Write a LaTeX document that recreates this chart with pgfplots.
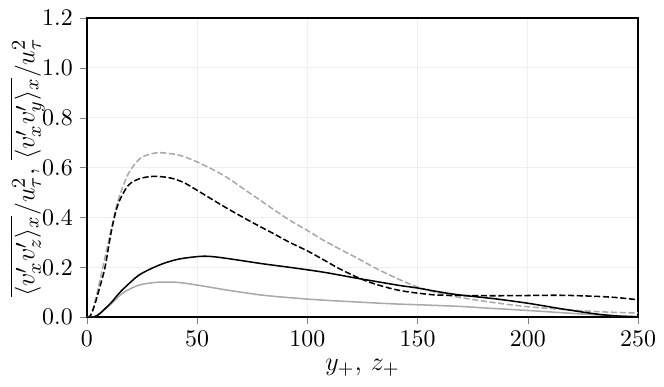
\documentclass[border=0pt]{standalone}
\usepackage{pgfplots}
\pgfplotsset{compat=1.18}

\definecolor{lgray}{HTML}{A9A9A9}
\definecolor{gridc}{HTML}{EFEFEF}

\begin{document}
\begin{tikzpicture}
\begin{axis}[
    name=ax,
    scale only axis,
    width=253pt, height=137.3pt,
    xmin=0, xmax=250, ymin=0, ymax=1.2,
    xtick={0,50,100,150,200,250},
    ytick={0,0.2,0.4,0.6,0.8,1.0,1.2},
    yticklabel style={/pgf/number format/.cd, fixed, fixed zerofill, precision=1},
    tick label style={font=\fontsize{10.95}{13}\selectfont},
    tick align=outside,
    xtick pos=bottom, ytick pos=left,
    major tick length=3pt,
    grid=major, grid style={gridc, line width=0.5pt},
    axis line style={line width=0.7pt},
    xlabel={$y_+$, $z_+$},
    ylabel={$\overline{\langle v'_x v'_z\rangle_x}/u_\tau^2$, $\overline{\langle v'_x v'_y\rangle_x}/u_\tau^2$},
    label style={font=\fontsize{12.5}{15}\selectfont},
    xlabel style={yshift=1pt},
    ylabel style={yshift=-8pt},
    every axis plot/.append style={line width=0.7pt, smooth},
]
% grey dashed
\addplot[lgray, dash pattern=on 2.8pt off 1.2pt] coordinates {
(0,0) (1.5,0.005) (3,0.04) (5.2,0.12) (8.2,0.24) (11.2,0.36) (14.2,0.47)
(18.8,0.576) (24,0.636) (29,0.655) (33,0.66) (38,0.656) (42.3,0.649)
(50,0.623) (62,0.569) (74,0.497) (84.7,0.432) (92,0.389) (100,0.348)
(107,0.310) (115,0.272) (122.4,0.238) (132,0.192) (142,0.150) (150,0.121)
(158,0.100) (165,0.086) (178.6,0.066) (200,0.042) (230,0.023) (250,0.017)};
% black dashed
\addplot[black, dash pattern=on 2.8pt off 1.2pt] coordinates {
(0,0) (1.5,0.005) (3,0.035) (5.2,0.1) (8.2,0.2) (11.2,0.35) (14.2,0.455)
(18.8,0.529) (24,0.556) (30,0.565) (35.5,0.562) (39,0.556) (44,0.54)
(50,0.509) (62,0.445) (74,0.385) (84.7,0.335) (92,0.300) (100,0.266)
(107,0.232) (114,0.197) (122.4,0.161) (130,0.135) (142,0.107) (157,0.09)
(170,0.087) (185,0.086) (200,0.087) (215,0.088) (230,0.084) (240,0.079) (250,0.070)};
% grey solid
\addplot[lgray] coordinates {
(0,0) (3,0.001) (5.2,0.01) (8.2,0.032) (11.2,0.055) (14,0.08) (17.3,0.103)
(23.3,0.128) (29.4,0.138) (35,0.141) (42,0.139) (51.3,0.127) (64.9,0.107)
(80,0.088) (96.6,0.075) (110,0.067) (137.7,0.054) (150,0.05) (170,0.043)
(178.6,0.038) (200,0.027) (230,0.01) (250,0.003)};
% black solid
\addplot[black] coordinates {
(0,0) (3,0.001) (5.2,0.01) (8.2,0.034) (11.2,0.06) (14,0.09) (17.3,0.12)
(23.3,0.167) (29.4,0.196) (35.5,0.218) (42.2,0.234) (51.3,0.244) (57,0.243)
(64.9,0.234) (80,0.214) (92,0.2) (107,0.181) (122,0.157) (130,0.145)
(142,0.127) (150,0.117) (165,0.094) (178.6,0.08) (185,0.074) (200,0.056)
(215,0.034) (230,0.014) (240,0.005) (250,0.001)};
\end{axis}
\path (ax.south west) ++(-39.9pt,-31.7pt) coordinate (bbA);
\path (ax.north east) ++(11.9pt,8.3pt) coordinate (bbB);
\pgfresetboundingbox
\path[use as bounding box] (bbA) rectangle (bbB);
\end{tikzpicture}
\end{document}
